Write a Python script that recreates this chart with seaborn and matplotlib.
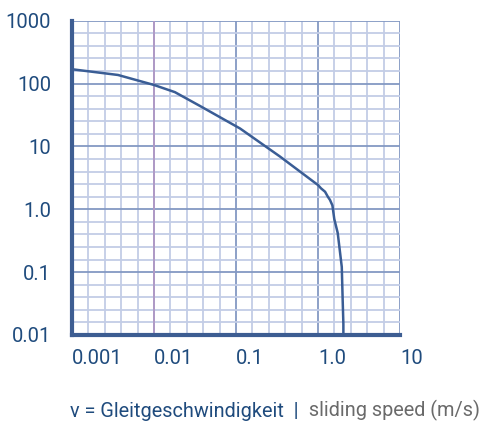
import numpy as np
import pandas as pd
import matplotlib
matplotlib.use('Agg')
from matplotlib import pyplot as plt
from matplotlib.ticker import FixedLocator, NullFormatter
import seaborn as sns

# curve: sliding speed (m/s) vs. load
speed = [0.001, 0.00364, 0.01, 0.018, 0.0364, 0.112, 0.344, 1.0, 1.09, 1.22, 1.32,
         1.40, 1.50, 1.58, 1.74, 1.95, 2.0, 2.04, 2.04]
load = [169, 137, 95, 73, 44, 19.3, 6.9, 2.43, 2.15, 1.9, 1.58,
        1.41, 1.15, 0.7, 0.42, 0.121, 0.036, 0.015, 0.01]

x_ticks = [0.001, 0.01, 0.1, 1, 10]
x_labels = ['0.001', '0.01', '0.1', '1.0', '10']
y_ticks = [0.01, 0.1, 1, 10, 100, 1000]
y_labels = ['0.01', '0.1', '1.0', '10', '100', '1000']

navy = '#1f4b7d'
line_col = '#3a5d95'

sns.set_style('white')
plt.rcParams['font.family'] = ['Roboto', 'DejaVu Sans']

df = pd.DataFrame({'speed': speed, 'load': load})

fig = plt.figure(figsize=(4.8, 4.21), dpi=100)
ax = fig.add_axes([0.15, 0.2043, 0.6833, 0.7465])
ax.set_xscale('log')
ax.set_yscale('log')
ax.set_xlim(0.001, 10)
ax.set_ylim(0.01, 1000)

# grid: 5 equal steps per decade
ax.xaxis.set_major_locator(FixedLocator(x_ticks))
ax.yaxis.set_major_locator(FixedLocator(y_ticks))
ax.xaxis.set_minor_locator(FixedLocator(10 ** np.arange(-3, 1.01, 0.2)))
ax.yaxis.set_minor_locator(FixedLocator(10 ** np.arange(-2, 3.01, 0.2)))
ax.xaxis.set_minor_formatter(NullFormatter())
ax.yaxis.set_minor_formatter(NullFormatter())
ax.grid(which='minor', color='#c3cde6', linewidth=1.3)
ax.grid(which='major', color='#8399c3', linewidth=1.3)
ax.axvline(x_ticks[1], color='#b09ac6', linewidth=1.4)
ax.set_axisbelow(True)

sns.lineplot(data=df, x='speed', y='load', ax=ax, color=line_col, linewidth=1.8,
             estimator=None, sort=False)

ax.set_xticks(x_ticks)
ax.set_xticklabels(x_labels, ha='left')
ax.set_yticks(y_ticks)
ax.set_yticklabels(y_labels)
ax.tick_params(axis='both', length=0, labelsize=14.5, labelcolor=navy)
ax.tick_params(axis='x', pad=10)
ax.tick_params(axis='y', pad=15)
ax.set_xlabel('')
ax.set_ylabel('')

for s in ['top', 'right']:
    ax.spines[s].set_visible(False)
for s in ['left', 'bottom']:
    ax.spines[s].set_color('#3d5d92')
    ax.spines[s].set_linewidth(3)

t1 = fig.text(70 / 480, 1 - 417 / 421, 'v = Gleitgeschwindigkeit  | ', color=navy,
              fontsize=14.3, va='baseline', ha='left')
ax.annotate(' sliding speed (m/s)', xy=(1, 0), xycoords=t1, va='bottom', ha='left',
            color='#6a6a6a', fontsize=14.3)

fig.savefig('out.png', dpi=100)
